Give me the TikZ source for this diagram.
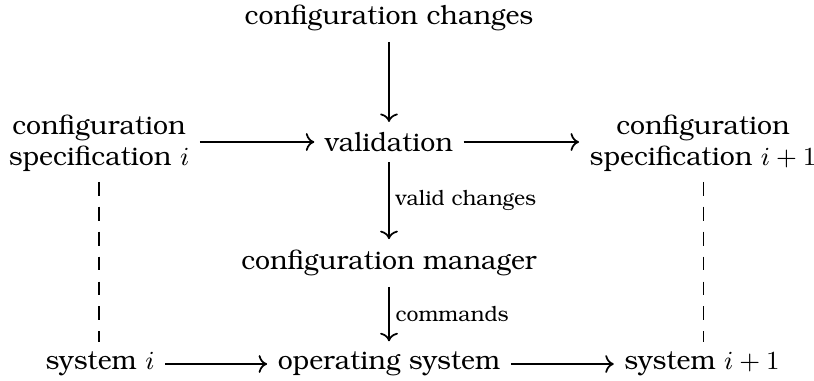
\documentclass[tikz,border=0pt]{standalone}
\usepackage[T1]{fontenc}
\usepackage{bookman}
\usetikzlibrary{arrows.meta}
\begin{document}
\begin{tikzpicture}[x=0.345pt,y=-0.345pt,
  font=\fontsize{9.2}{10.5}\selectfont,
  lbl/.style={inner sep=3.5pt},
  arr/.style={draw,line width=0.6pt,->},
  dsh/.style={draw,line width=0.35pt,dash pattern=on 4.8pt off 3.8pt},
  sm/.style={font=\fontsize{7.3}{9}\selectfont,anchor=west,inner sep=2pt}]
\useasboundingbox (0,0) rectangle (814,380);
\node[lbl] (cc) at (389,18) {configuration changes};
\node[lbl] (val) at (389,142) {validation};
\node[lbl,align=center] (csi) at (99,143) {configuration\\specification $i$};
\node[lbl,align=center] (csj) at (703,143) {configuration\\specification $i+1$};
\node[lbl] (cm) at (389,263) {configuration manager};
\node[lbl] (os) at (389,364) {operating system};
\node[lbl] (si) at (100,364) {system $i$};
\node[lbl] (sj) at (702,364) {system $i+1$};
\draw[arr] (cc) -- (val);
\draw[arr] (csi.east|-val) -- (val);
\draw[arr] (val) -- (csj.west|-val);
\draw[arr] (val) -- node[sm,right] {valid changes} (cm);
\draw[arr] (cm) -- node[sm,right] {commands} (os);
\draw[arr] (si) -- (os);
\draw[arr] (os) -- (sj);
\draw[dsh] (csi.south) -- (csi.south|-si.north);
\draw[dsh] (csj.south) -- (csj.south|-sj.north);
\end{tikzpicture}
\end{document}
